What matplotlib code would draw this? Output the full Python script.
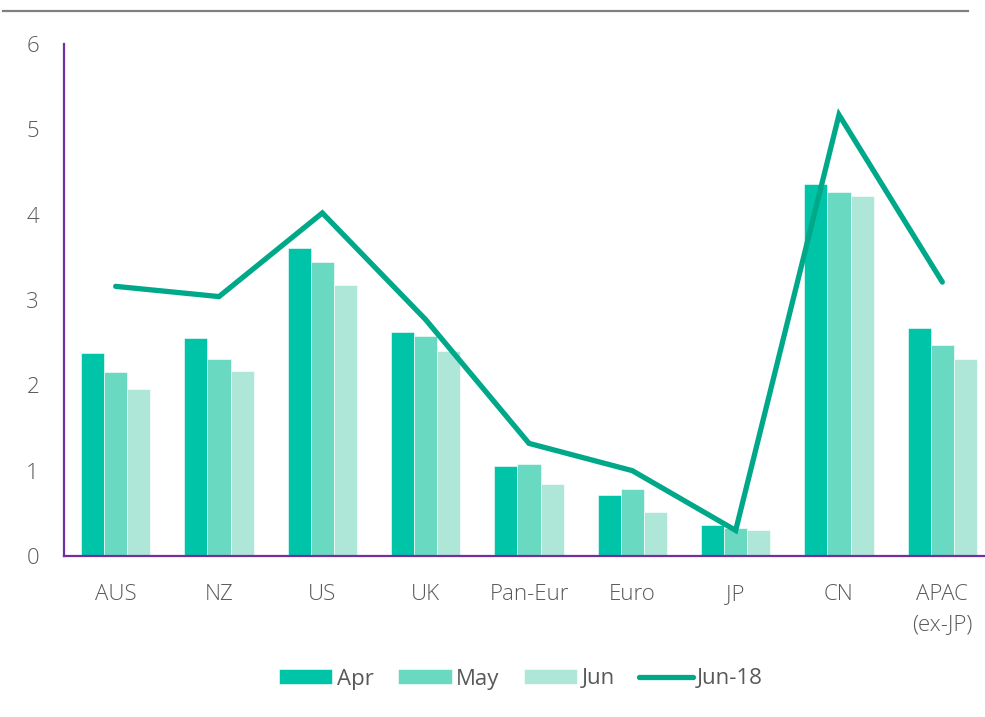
import matplotlib
matplotlib.use("Agg")
import matplotlib.pyplot as plt
import numpy as np
from matplotlib.lines import Line2D

categories = ["AUS", "NZ", "US", "UK", "Pan-Eur", "Euro", "JP", "CN", "APAC\n(ex-JP)"]
apr = [2.38, 2.55, 3.61, 2.63, 1.05, 0.71, 0.36, 4.36, 2.67]
may = [2.16, 2.31, 3.45, 2.58, 1.08, 0.78, 0.33, 4.26, 2.47]
jun = [1.96, 2.17, 3.17, 2.40, 0.84, 0.52, 0.30, 4.22, 2.31]
jun18 = [3.16, 3.04, 4.02, 2.77, 1.32, 1.00, 0.30, 5.17, 3.21]
yticks = [0, 1, 2, 3, 4, 5, 6]

plt.rcParams['font.family'] = ['Open Sans', 'DejaVu Sans']
txt = '#595959'

W, H = 985, 717
fig = plt.figure(figsize=(W / 100, H / 100), dpi=100)
ax = fig.add_axes([64 / W, (H - 556) / H, (994 - 64) / W, (556 - 44) / H])

x = np.arange(len(categories))
bw = 0.223
c_apr, c_may, c_jun, c_line = '#00C4A7', '#6AD9C1', '#AEE6D8', '#00A88A'
b1 = ax.bar(x - bw, apr, bw, color=c_apr, label='Apr', edgecolor='white', linewidth=0.4)
b2 = ax.bar(x, may, bw, color=c_may, label='May', edgecolor='white', linewidth=0.4)
b3 = ax.bar(x + bw, jun, bw, color=c_jun, label='Jun', edgecolor='white', linewidth=0.4)
l1, = ax.plot(x, jun18, color=c_line, lw=3.8, solid_capstyle='round', solid_joinstyle='miter', label='Jun-18')

ax.set_xlim(-0.5, len(categories) - 0.5)
ax.set_ylim(0, 6)
ax.set_yticks(yticks)
ax.set_xticks(x)
ax.set_xticklabels(categories, fontsize=16, color=txt, fontweight='light', linespacing=1.6)
ax.set_yticklabels([str(v) for v in yticks], fontsize=16, color=txt, fontweight='light')
ax.tick_params(axis='x', length=0, pad=20)
ax.tick_params(axis='y', length=0, pad=18)
for s in ['top', 'right']:
    ax.spines[s].set_visible(False)
for s in ['left', 'bottom']:
    ax.spines[s].set_color('#7030A0')
    ax.spines[s].set_linewidth(1.6)

fig.add_artist(Line2D([3 / W, 968 / W], [(H - 11) / H, (H - 11) / H], color='#808080', lw=1.6))

leg = fig.legend(handles=[b1, b2, b3, l1], labels=['Apr', 'May', 'Jun', 'Jun-18'],
                 loc='center', bbox_to_anchor=(521 / W, (H - 679) / H), ncol=4, frameon=False,
                 fontsize=16, handlelength=2.4, handleheight=0.65, handletextpad=0.2,
                 columnspacing=1.1, labelcolor=txt)

fig.savefig('out.png', dpi=100)
